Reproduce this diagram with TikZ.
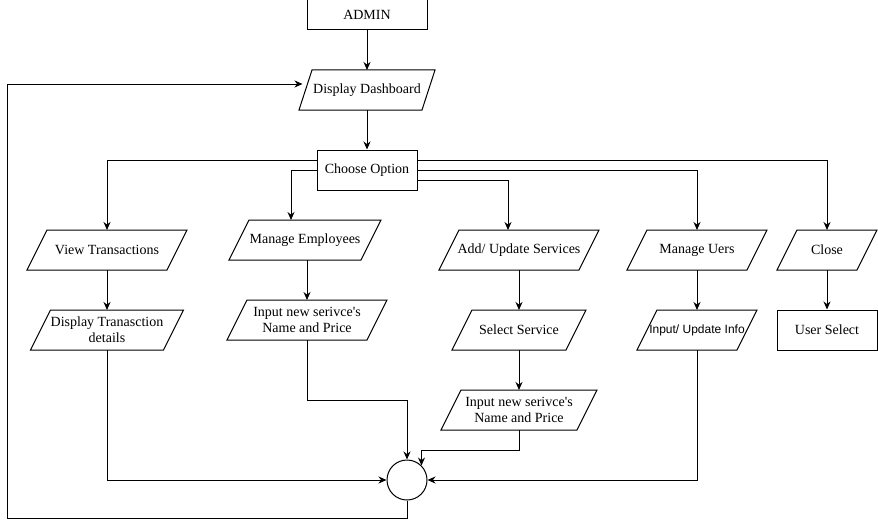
\documentclass[tikz,border=0pt]{standalone}
\usepackage{fontspec}
\setmainfont{Liberation Serif}
\newfontfamily\arialfont{Liberation Sans}
\usepackage{tikz}
\usetikzlibrary{arrows.meta, calc}

\begin{document}
\begin{tikzpicture}[x=1pt, y=1pt, line width=1pt, >={Stealth[length=8pt, width=7pt]},
    font=\fontsize{14}{16}\selectfont,
    box/.style={draw, rectangle, minimum height=40pt, inner sep=2pt, align=center},
    % parallelogram: #1 = half of the slant
    io/.style={rectangle, minimum height=40pt, inner sep=0pt, outer sep=0pt, align=center,
        append after command={\pgfextra{
            \draw ($(\tikzlastnode.south west)+(-#1,0)$) -- ($(\tikzlastnode.north west)+(#1,0)$)
                -- ($(\tikzlastnode.north east)+(#1,0)$) -- ($(\tikzlastnode.south east)+(-#1,0)$) -- cycle;}}},
    io/.default=10]
    \useasboundingbox (0,0) rectangle (878,-527);

    % start, dashboard and menu
    \node[box, minimum height=30pt, minimum width=120pt] (admin) at (367,-15) {ADMIN};
    \node[io=6.5, minimum width=123pt] (dash) at (367,-90) {Display Dashboard};
    \node[box, minimum width=100pt] (choose) at (367,-170) {Choose Option};

    % the five options
    \node[io, minimum width=140pt] (view) at (107,-250) {View Transactions};
    \node[io, minimum width=132pt] (emp) at (305,-240) {Manage Employees};
    \node[io, minimum width=140pt] (add) at (519,-250) {Add/ Update Services};
    \node[io, minimum width=120pt] (users) at (697,-250) {Manage Uers};
    \node[io, minimum width=80pt] (close) at (827,-250) {Close};

    % second steps
    \node[io, minimum width=133pt] (details) at (107,-330) {Display Tranasction\\details};
    \node[io, minimum width=140pt] (input1) at (307,-320) {Input new serivce\textquotesingle s\\Name and Price};
    \node[io, minimum width=114pt] (select) at (519,-330) {Select Service};
    \node[io, minimum width=100pt, font=\arialfont\fontsize{12}{14}\selectfont] (info) at (697,-330) {Input/ Update Info};
    \node[box, minimum width=100pt] (usel) at (827,-330) {User Select};
    \node[io, minimum width=136pt] (input2) at (519,-410) {Input new serivce\textquotesingle s\\Name and Price};

    % connector
    \node[draw, circle, minimum size=40pt, inner sep=0pt] (join) at (407,-480) {};

    % main flow
    \draw[->] (admin) -- (dash);
    \draw[->] (dash) -- (choose);
    \draw[->] ($(choose.west)+(0,10)$) -| (view.north);
    \draw[->] (choose.west) -| ($(emp.north)+(-14,0)$);
    \draw[->] ($(choose.east)+(0,-10)$) -| ($(add.north)+(-11,0)$);
    \draw[->] (choose.east) -| (users.north);
    \draw[->] ($(choose.east)+(0,10)$) -| (close.north);

    \draw[->] (view) -- (details);
    \draw[->] (emp.south -| input1.north) -- (input1.north);
    \draw[->] (add) -- (select);
    \draw[->] (select) -- (input2);
    \draw[->] (users) -- (info);
    \draw[->] (close) -- (usel);

    % back to the connector
    \draw[->] (details.south) |- (join.west);
    \draw[->] (info.south) |- (join.east);
    \draw[->] (input1.south) -- ++(0,-60) -| (join.north);
    \draw[->] (input2.south) -- ++(0,-20) -| (join.45);
    \draw[->] (join.south) -- ++(0,-18) -| (7,-84) -- ($(dash.west)+(-3,6)$);
\end{tikzpicture}
\end{document}
